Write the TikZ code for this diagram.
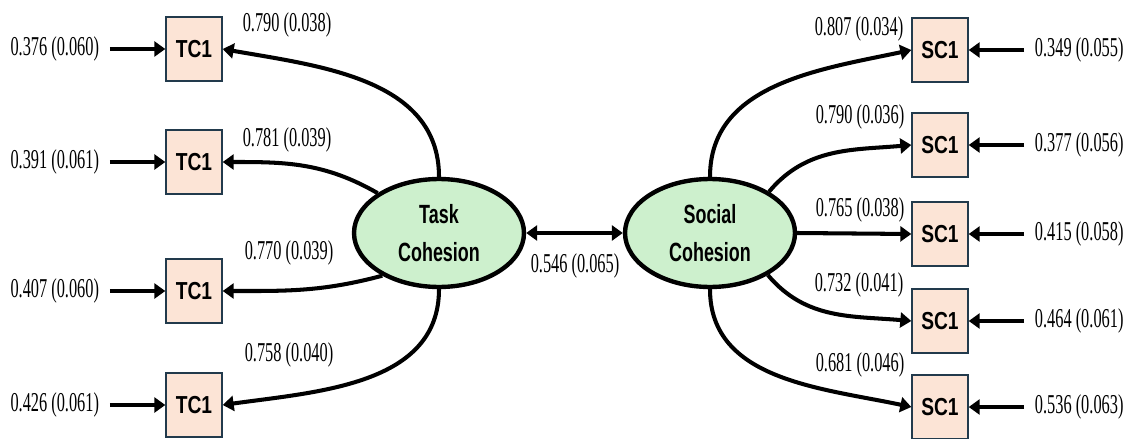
\documentclass[tikz,border=0pt]{standalone}
\usepackage{fontspec}
\usepackage{xcolor}
\usepackage{tikz}
\usetikzlibrary{arrows.meta,positioning,shapes.geometric}
\newfontfamily\numfont[FakeStretch=0.6]{Liberation Serif}
\newfontfamily\itemfont[FakeStretch=0.78]{Liberation Sans}
\newfontfamily\factorfont[FakeStretch=0.68]{Liberation Sans}
\definecolor{itemfill}{RGB}{252,228,214}
\definecolor{itemline}{RGB}{34,58,76}
\definecolor{factorfill}{RGB}{205,240,205}

\begin{document}
\begin{tikzpicture}[x=0.02cm, y=-0.02cm, line width=2.3pt, node distance=1.25cm,
  >={Triangle[length=2.2mm,width=3mm]}]
\tikzstyle{item} = [rectangle, draw=itemline, line width=0.8pt, fill=itemfill,
  minimum width=1.12cm, minimum height=1.28cm, inner sep=0pt,
  font=\itemfont\bfseries\fontsize{14}{16}\selectfont]
\tikzstyle{factor} = [ellipse, draw, line width=2.5pt, fill=factorfill, minimum width=3.4cm,
  minimum height=2.16cm, inner sep=0pt, align=center,
  font=\factorfont\bfseries\fontsize{15}{21.6}\selectfont]
\tikzstyle{num} = [inner sep=1pt, font=\numfont\fontsize{15.5}{17}\selectfont]
\useasboundingbox (0,0) rectangle (1129,439);
\node[factor] (task) at (439,233) {Task\\Cohesion};
\node[factor] (social) at (710,233) {Social\\Cohesion};
\foreach \i/\y in {1/49,2/162,3/291,4/405}
  \node[item] (tc\i) at (194,\y) {TC1};
\foreach \i/\y in {1/50,2/145,3/234,4/321,5/407}
  \node[item] (sc\i) at (940,\y) {SC1};
\foreach \i/\v in {1/{0.376 (0.060)},2/{0.391 (0.061)},3/{0.407 (0.060)},4/{0.426 (0.061)}}{
  \node[num, left=of tc\i] (etc\i) {\v};
  \draw[->, shorten <=4pt] (etc\i) -- (tc\i);
}
\foreach \i/\v in {1/{0.349 (0.055)},2/{0.377 (0.056)},3/{0.415 (0.058)},4/{0.464 (0.061)},5/{0.536 (0.063)}}{
  \node[num, right=of sc\i] (esc\i) {\v};
  \draw[->, shorten <=4pt] (esc\i) -- (sc\i);
}
\path[->] (task.north) edge [out=90, in=-10] (tc1.east)
  (task.147) edge [out=150, in=0] (tc2.east)
  (task.217) edge [out=195, in=0] (tc3.east)
  (task.south) edge [out=-90, in=8] (tc4.east)
  (social.north) edge [out=90, in=192] (sc1.west)
  (social.35) edge [out=50, in=185] (sc2.west)
  (social.east) edge (sc3.west)
  (social.-36) edge [out=-50, in=175] (sc4.west)
  (social.south) edge [out=-90, in=168] (sc5.west);
\draw[<->] (task.east) -- (social.west);
\node[num] (ltc1) at (287,25) {0.790 (0.038)};
\node[num] (ltc2) at (287,140) {0.781 (0.039)};
\node[num] (ltc3) at (289,253) {0.770 (0.039)};
\node[num] (ltc4) at (289,355) {0.758 (0.040)};
\node[num] (lsc1) at (859,29) {0.807 (0.034)};
\node[num] (lsc2) at (860,117) {0.790 (0.036)};
\node[num] (lsc3) at (860,210) {0.765 (0.038)};
\node[num] (lsc4) at (859,285) {0.732 (0.041)};
\node[num] (lsc5) at (860,365) {0.681 (0.046)};
\node[num] (lcov) at (575,266) {0.546 (0.065)};
\end{tikzpicture}
\end{document}
